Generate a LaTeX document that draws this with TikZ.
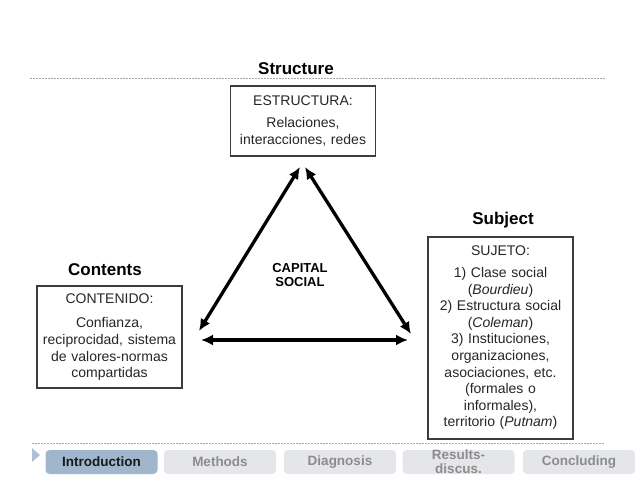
\documentclass[tikz,border=0pt]{standalone}
\usepackage{fontspec}
\setmainfont{Liberation Sans}
\usetikzlibrary{arrows.meta}

\definecolor{boxline}{HTML}{3C3C3C}
\definecolor{dotline}{HTML}{A8A8A8}
\definecolor{navon}{HTML}{A0B6CC}
\definecolor{navoff}{HTML}{E4E6EA}
\definecolor{navtext}{HTML}{8C8C8C}

\tikzset{
    conceptbox/.style={draw=boxline, line width=1.3pt, fill=white, text=black!85, text width=137pt, inner xsep=4pt, inner ysep=0pt, align=center, font=\fontsize{14}{16.6}\selectfont},
    boxtitle/.style={anchor=base, font=\fontsize{17}{20}\selectfont\bfseries},
    navbutton/.style={fill=navoff, rounded corners=4pt, minimum width=112pt, minimum height=24pt, inner sep=0pt, text=navtext, align=center, font=\fontsize{13.5}{14}\selectfont\bfseries},
    link/.style={line width=3.3pt, {Latex[length=12pt,width=11pt]}-{Latex[length=12pt,width=11pt]}}
}

\begin{document}
\begin{tikzpicture}[x=1pt, y=-1pt]
        \useasboundingbox (0,0) rectangle (638,479);
        % dotted rules
        \draw[dotline, line width=0.7pt, dash pattern=on 1.5pt off 1.5pt] (30,78) -- (606,78);
        \draw[dotline, line width=0.7pt, dash pattern=on 1.5pt off 1.5pt] (32,443) -- (605,443);
        % titles
        \node[boxtitle] (structure) at (296,74) {Structure};
        \node[boxtitle] (subject) at (503,224.5) {Subject};
        \node[boxtitle] (contents) at (105,275) {Contents};
        % boxes
        \node[conceptbox, minimum height=70pt] (estructura) at (303,121) {ESTRUCTURA:\\[6pt] Relaciones,\\ interacciones, redes};
        \node[conceptbox, minimum height=102pt] (contenido) at (109.5,337) {CONTENIDO:\\[8pt] Confianza,\\ reciprocidad, sistema\\ de valores-normas\\ compartidas};
        \node[conceptbox, minimum height=202pt] (sujeto) at (500.5,338) {SUJETO:\\[5pt] 1) Clase social\\ (\textit{Bourdieu})\\ 2) Estructura social\\ (\textit{Coleman})\\ 3) Instituciones,\\ organizaciones,\\ asociaciones, etc.\\ (formales o\\ informales),\\ territorio (\textit{Putnam})};
        % triangle
        \node[align=center, font=\fontsize{13}{14.5}\selectfont\bfseries] (capital) at (300,275) {CAPITAL\\SOCIAL};
        \coordinate (topL) at (300,167);
        \coordinate (topR) at (305,167);
        \coordinate (leftA) at (199,331);
        \coordinate (leftB) at (201,340);
        \coordinate (rightA) at (411,334);
        \coordinate (rightB) at (408,340);
        \draw[link] (topL) -- (leftA);
        \draw[link] (topR) -- (rightA);
        \draw[link] (leftB) -- (rightB);
        % navigation
        \fill[navon!85] (32,448) -- (40,455) -- (32,462) -- cycle;
        \node[navbutton, fill=navon, text=black!90] (intro) at (101.5,462) {Introduction};
        \node[navbutton] (methods) at (220,462) {Methods};
        \node[navbutton] (diagnosis) at (340,462) {Diagnosis};
        \node[navbutton] (results) at (458.5,462) {Results-\\discus.};
        \node[navbutton] (concluding) at (579,462) {Concluding};
\end{tikzpicture}
\end{document}
